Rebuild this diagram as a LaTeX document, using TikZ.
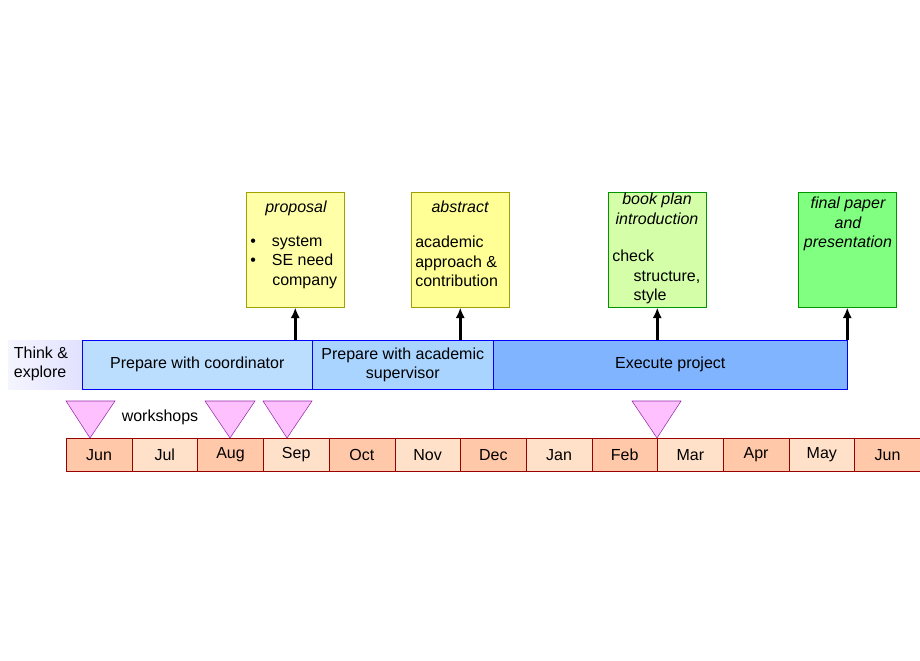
\documentclass[tikz,border=0pt]{standalone}
\usepackage{fontspec}
\setmainfont{Liberation Sans}
\begin{document}
\begin{tikzpicture}[x=0.75pt,y=-0.75pt,font=\fontsize{12}{14.5}\selectfont,
  mon/.style={draw=red!60!black,minimum width=65.7*0.75pt,minimum height=33*0.75pt,inner sep=0pt,anchor=north west},
  dk/.style={mon,fill={rgb,255:red,255;green,200;blue,168}},
  lt/.style={mon,fill={rgb,255:red,255;green,224;blue,200}},
  tri/.style={draw={rgb,255:red,150;green,40;blue,170},fill={rgb,255:red,255;green,192;blue,255}},
  phase/.style={draw=blue,inner sep=0pt,minimum height=49*0.75pt,anchor=north west,align=center},
  box/.style={inner sep=0pt,minimum width=98*0.75pt,minimum height=115*0.75pt,anchor=north west},
  arr/.style={line width=2.2pt,-{Latex[length=8pt,width=7pt]}}]
\usetikzlibrary{arrows.meta}
\useasboundingbox (0,0) rectangle (920,660);
% months
\foreach \m/\s [count=\i from 0] in {Jun/dk,Jul/lt,Aug/dk,Sep/lt,Oct/dk,Nov/lt,Dec/dk,Jan/lt,Feb/dk,Mar/lt,Apr/dk,May/lt,Jun/dk}
  \node[\s] (m\i) at ({66+65.7*\i},438) {\m};
% triangles
\draw[tri] (66,401) -- (115,401) -- (90,438) -- cycle;
\draw[tri] (205,401) -- (255,401) -- (230,438) -- cycle;
\draw[tri] (263,401) -- (312,401) -- (287,438) -- cycle;
\draw[tri] (632,401) -- (681,401) -- (657,438) -- cycle;
\node (ws) at (160,417) {workshops};
% phases
\shade[left color={rgb,255:red,245;green,245;blue,255},right color={rgb,255:red,225;green,225;blue,255}] (8,340) rectangle (82,389);
\node[align=left,inner sep=0pt] (think) at (41,364) {Think \&\\explore};
\node[phase,fill={rgb,255:red,187;green,222;blue,255},minimum width=230*0.75pt] (p1) at (82,340) {Prepare with coordinator};
\node[phase,fill={rgb,255:red,168;green,212;blue,255},minimum width=181*0.75pt] (p2) at (312,340) {Prepare with academic\\supervisor};
\node[phase,fill={rgb,255:red,128;green,180;blue,255},minimum width=354*0.75pt] (p3) at (493,340) {Execute project};
% deliverables
\node[box,draw={rgb,255:red,160;green,160;blue,0},fill={rgb,255:red,255;green,255;blue,168}] (b1) at (246,192) {};
\node[anchor=north] at (296,196) {\itshape proposal};
\node[anchor=north west,align=left,inner sep=0pt] at (250,236) {\textbullet\hspace{12pt}system\\\textbullet\hspace{12pt}SE need\\\hspace{16.5pt}company};
\node[box,draw={rgb,255:red,160;green,160;blue,0},fill={rgb,255:red,255;green,255;blue,150}] (b2) at (411,192) {};
\node[anchor=north] at (460,196) {\itshape abstract};
\node[anchor=north west,align=left,inner sep=0pt] at (415,236) {academic\\approach \&\\contribution};
\node[box,draw={rgb,255:red,0;green,150;blue,0},fill={rgb,255:red,212;green,255;blue,168}] (b3) at (608,192) {};
\node[anchor=north,align=center,inner sep=0pt] at (657,193) {\itshape book plan\\\itshape introduction};
\node[anchor=north west,align=left,inner sep=0pt] at (612,250) {check\\\hspace{16pt}structure,\\\hspace{16pt}style};
\node[box,draw={rgb,255:red,0;green,150;blue,0},fill={rgb,255:red,128;green,255;blue,128}] (b4) at (798,192) {};
\node[anchor=north,align=center,inner sep=0pt] at (848,197) {\itshape final paper\\\itshape and\\\itshape presentation};
% arrows
\draw[arr] (p1.north -| b1.south) -- (b1.south);
\draw[arr] (p2.north -| b2.south) -- (b2.south);
\draw[arr] (p3.north -| b3.south) -- (b3.south);
\draw[arr] (p3.north east -| b4.south) -- (b4.south);
\end{tikzpicture}
\end{document}
